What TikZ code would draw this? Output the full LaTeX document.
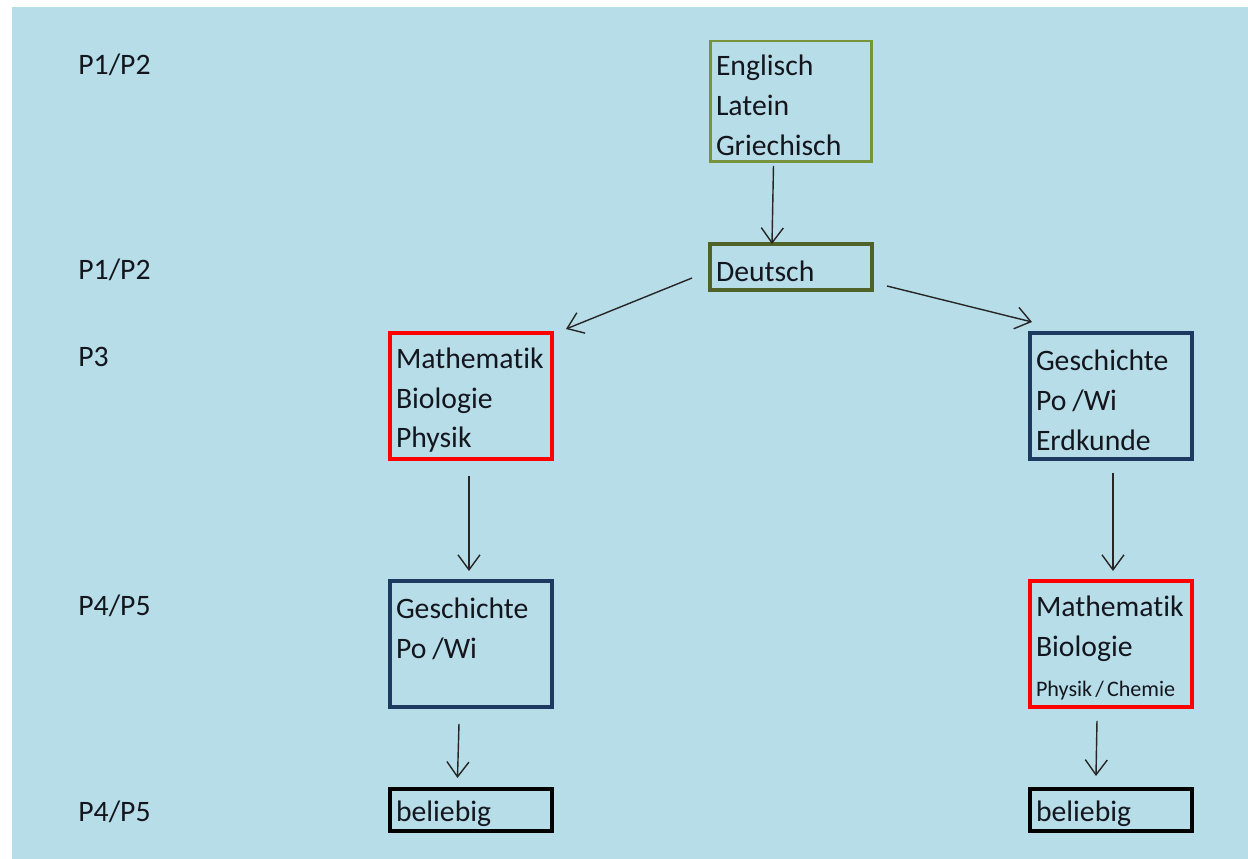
\documentclass[tikz,border=0pt]{standalone}
\usepackage{fontspec}
\setmainfont{Carlito}[Ligatures=CommonOff]
\usetikzlibrary{arrows.meta,calc}
\definecolor{hgblau}{HTML}{B7DDE8}
\definecolor{gruen}{HTML}{77933C}
\definecolor{olivgruen}{HTML}{4F6228}
\definecolor{dunkelblau}{HTML}{1F3A60}
\definecolor{schrift}{HTML}{14161E}
\tikzset{
  fach/.style={draw, anchor=north west, outer sep=0pt, inner xsep=1.2mm, inner ysep=0pt,
    align=left, text width=30mm, minimum width=32.4mm, minimum height=25.2mm,
    text=schrift, font=\fontsize{16.9}{22.7}\selectfont,
    execute at begin node={\rule{0pt}{16.4pt}}},
  stufe/.style={anchor=west, inner sep=0pt, text=schrift, font=\fontsize{16.9}{22.7}\selectfont},
  pfeil/.style={draw=black!85, line width=0.8pt, -{Straight Barb[length=3mm,width=4.4mm,line width=0.8pt]}}
}
\begin{document}
\begin{tikzpicture}[x=0.02cm,y=-0.02cm]
				\useasboundingbox (0,0) rectangle (1248,859);
				\fill[hgblau] (12,7) rectangle (1248,859);

				% Stufen links
				\node[stufe] (s1) at (78,65) {P1/P2};
				\node[stufe] (s2) at (78,270) {P1/P2};
				\node[stufe] (s3) at (78,357) {P3};
				\node[stufe] (s4) at (78,606) {P4/P5};
				\node[stufe] (s5) at (78,812) {P4/P5};

				% Faecher
				\node[fach, draw=gruen, line width=1.7pt, minimum height=24.2mm] (spr) at (710,41) {Englisch\\Latein\\Griechisch};
				\node[fach, draw=olivgruen, line width=2.6pt, minimum height=9.2mm] (deu) at (710,244) {Deutsch};
				\node[fach, draw=red, line width=2.4pt] (mbpl) at (390,333) {Mathematik\\Biologie\\Physik};
				\node[fach, draw=dunkelblau, line width=2.2pt] (gper) at (1030,333) {Geschichte\\Po\hspace{0.2em}/Wi\\Erdkunde};
				\node[fach, draw=dunkelblau, line width=2.2pt] (gpl) at (390,581) {Geschichte\\Po\hspace{0.2em}/Wi\\\mbox{}};
				\node[fach, draw=red, line width=2.4pt] (mbpr) at (1030,581) {Mathematik\\Biologie\\{\fontsize{12.6}{14}\selectfont Physik\hspace{0.14em}/\hspace{0.14em}Chemie}};
				\node[fach, draw=black, line width=2pt, minimum height=8.4mm, minimum width=32.2mm] (bell) at (390,789) {beliebig};
				\node[fach, draw=black, line width=2pt, minimum height=8.4mm, minimum width=32mm] (belr) at (1030,789) {beliebig};

				\draw[pfeil] ($(spr.south)+(-17.5,4)$) -- ($(deu.north)+(-19,0)$);
				\draw[pfeil] ($(deu.west)+(-18,11)$) -- ($(mbpl.north east)+(14,-4)$);
				\draw[pfeil] ($(deu.east)+(15,19)$) -- ($(gper.north west)+(2,-11)$);
				\draw[pfeil] ($(mbpl.south)+(-2,17)$) -- ($(gpl.north)+(-2,-10)$);
				\draw[pfeil] ($(gper.south)+(2,14)$) -- ($(mbpr.north)+(2,-10)$);
				\draw[pfeil] ($(gpl.south)+(-12,17)$) -- ($(bell.north)+(-13.5,-11)$);
				\draw[pfeil] ($(mbpr.south)+(-14,14)$) -- ($(belr.north)+(-15,-13)$);
			\end{tikzpicture}
\end{document}
